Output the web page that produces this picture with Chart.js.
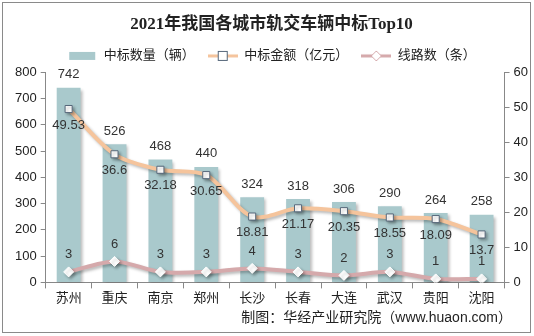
<!DOCTYPE html>
<html>
<head>
<meta charset="utf-8">
<script src="https://cdn.jsdelivr.net/npm/chart.js@4/dist/chart.umd.min.js"></script>
<style>
  body { margin: 0; background: #fff; }
  #wrap { position: relative; width: 534px; height: 336px; }
</style>
</head>
<body>
<div id="wrap"><canvas id="c" width="534" height="336"></canvas></div>
<script>
var cities = ["苏州", "重庆", "南京", "郑州", "长沙", "长春", "大连", "武汉", "贵阳", "沈阳"];
var counts = [742, 526, 468, 440, 324, 318, 306, 290, 264, 258];
var amounts = [49.53, 36.6, 32.18, 30.65, 18.81, 21.17, 20.35, 18.55, 18.09, 13.7];
var routes = [3, 6, 3, 3, 4, 3, 2, 3, 1, 1];
var source = "制图：华经产业研究院（www.huaon.com）";

var barColor = "#a9c9cc";
var amountColor = "#f5c49c";
var routeColor = "#d5a9ab";
var sans = "'Liberation Sans', 'Noto Sans CJK SC', sans-serif";

// small legend swatches
function swatch(kind) {
  var cv = document.createElement("canvas");
  cv.width = 30; cv.height = 12;
  var g = cv.getContext("2d");
  if (kind == "bar") {
    g.fillStyle = barColor;
    g.fillRect(2, 2, 26, 8);
  } else if (kind == "square") {
    g.strokeStyle = amountColor; g.lineWidth = 3;
    g.beginPath(); g.moveTo(0, 6); g.lineTo(30, 6); g.stroke();
    g.fillStyle = "#fff"; g.strokeStyle = "#56677a"; g.lineWidth = 1;
    g.fillRect(10.5, 1.5, 9, 9); g.strokeRect(10.5, 1.5, 9, 9);
  } else {
    g.strokeStyle = routeColor; g.lineWidth = 3;
    g.beginPath(); g.moveTo(0, 6); g.lineTo(30, 6); g.stroke();
    g.fillStyle = "#fff"; g.strokeStyle = routeColor; g.lineWidth = 1;
    g.beginPath(); g.moveTo(15, 1); g.lineTo(20, 6); g.lineTo(15, 11); g.lineTo(10, 6); g.closePath();
    g.fill(); g.stroke();
  }
  return cv;
}
var swatches = [swatch("bar"), swatch("square"), swatch("diamond")];

var labelPlugin = {
  id: "labels",
  beforeDatasetDraw: function (chart, args) {
    var ctx = chart.ctx;
    ctx.save();
    ctx.shadowColor = "rgba(0,0,0,0.28)";
    ctx.shadowOffsetX = 2;
    ctx.shadowOffsetY = 2;
    ctx.shadowBlur = 3;
  },
  afterDatasetDraw: function (chart) {
    chart.ctx.restore();
  },
  afterDatasetsDraw: function (chart) {
    var ctx = chart.ctx;
    ctx.save();
    ctx.font = "13px " + sans;
    ctx.fillStyle = "#333";
    ctx.textAlign = "center";
    ctx.textBaseline = "middle";
    chart.getDatasetMeta(0).data.forEach(function (el, i) {
      ctx.fillText(counts[i], el.x, el.y - 13);
    });
    chart.getDatasetMeta(1).data.forEach(function (el, i) {
      ctx.fillText(amounts[i], el.x, el.y + 16);
    });
    chart.getDatasetMeta(2).data.forEach(function (el, i) {
      ctx.fillText(routes[i], el.x, el.y - 17);
    });
    ctx.restore();
  },
  afterDraw: function (chart) {
    var ctx = chart.ctx;
    ctx.save();
    // source note, bottom right
    ctx.font = "14px " + sans;
    ctx.fillStyle = "#222";
    ctx.textAlign = "right";
    ctx.textBaseline = "middle";
    ctx.fillText(source, 512, 318);
    ctx.strokeStyle = "#8a8a8a";
    ctx.lineWidth = 1;
    ctx.strokeRect(2.5, 2.5, 528, 330);
    ctx.restore();
  }
};

new Chart("c", {
  type: "bar",
  data: {
    labels: cities,
    datasets: [
      {
        label: "中标数量（辆）",
        data: counts,
        backgroundColor: barColor,
        yAxisID: "y",
        barPercentage: 0.52,
        categoryPercentage: 1,
        order: 3
      },
      {
        type: "line",
        label: "中标金额（亿元）",
        data: amounts,
        borderColor: amountColor,
        borderWidth: 4,
        tension: 0.3,
        pointStyle: "rect",
        pointRadius: 5,
        pointBackgroundColor: "#fff",
        pointBorderColor: "#56677a",
        pointBorderWidth: 1,
        yAxisID: "y1",
        order: 1
      },
      {
        type: "line",
        label: "线路数（条）",
        data: routes,
        borderColor: routeColor,
        borderWidth: 4,
        tension: 0.3,
        pointStyle: "rectRot",
        pointRadius: 5,
        pointBackgroundColor: "#fff",
        pointBorderColor: "#fff",
        pointBorderWidth: 1,
        yAxisID: "y1",
        order: 2
      }
    ]
  },
  options: {
    responsive: false,
    animation: false,
    layout: { padding: { left: 11, right: 2, top: 4, bottom: 28 } },
    plugins: {
      title: {
        display: true,
        text: "2021年我国各城市轨交车辆中标Top10",
        color: "#222",
        font: { family: "'Liberation Serif', 'Noto Sans CJK SC', serif", size: 17, weight: "bold" },
        padding: { top: 10, bottom: 2 }
      },
      legend: {
        labels: {
          usePointStyle: true,
          pointStyleWidth: 30,
          color: "#222",
          font: { family: sans, size: 13 },
          padding: 13,
          generateLabels: function (chart) {
            return chart.data.datasets.map(function (ds, i) {
              return { text: ds.label, pointStyle: swatches[i], datasetIndex: i, lineWidth: 0, fontColor: "#222" };
            });
          }
        }
      },
      tooltip: { enabled: false }
    },
    scales: {
      x: {
        offset: true,
        grid: { display: true, drawOnChartArea: false, offset: true, tickLength: 6, color: "#888" },
        border: { display: true, color: "#888" },
        ticks: { color: "#222", font: { family: sans, size: 13 }, padding: 2 }
      },
      y: {
        position: "left",
        min: 0, max: 800,
        ticks: { stepSize: 100, color: "#222", font: { family: sans, size: 13 }, padding: 4 },
        grid: { drawOnChartArea: false, tickLength: 5, color: "#888" },
        border: { display: true, color: "#888" }
      },
      y1: {
        position: "right",
        min: 0, max: 60,
        ticks: { stepSize: 10, color: "#222", font: { family: sans, size: 13 }, padding: 4 },
        grid: { drawOnChartArea: false, tickLength: 5, color: "#888" },
        border: { display: true, color: "#888" }
      }
    }
  },
  plugins: [labelPlugin]
});
</script>
</body>
</html>
